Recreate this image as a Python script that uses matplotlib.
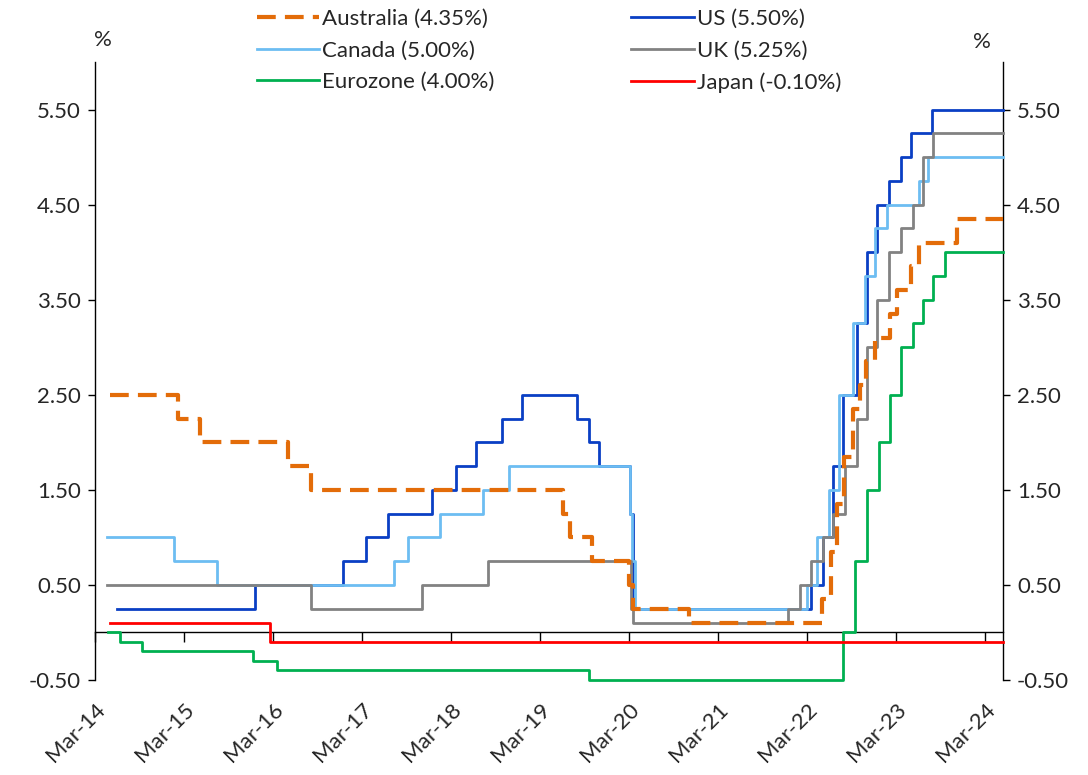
import matplotlib
matplotlib.use("Agg")
import matplotlib.pyplot as plt
import matplotlib.dates as mdates
import numpy as np
from datetime import datetime

plt.rcParams['font.family'] = ['Lato', 'DejaVu Sans']

# ---- data: policy rate change dates and levels ----
end_date = "2024-05-15"

us_dates = ["2014-06-01", "2015-12-17", "2016-12-15", "2017-03-16", "2017-06-15", "2017-12-14",
            "2018-03-22", "2018-06-14", "2018-09-27", "2018-12-20", "2019-08-01", "2019-09-19",
            "2019-10-31", "2020-03-04", "2020-03-16", "2022-03-17", "2022-05-05", "2022-06-16",
            "2022-07-28", "2022-09-22", "2022-11-03", "2022-12-15", "2023-02-02", "2023-03-23",
            "2023-05-04", "2023-07-27"]
us_rates = [0.25, 0.50, 0.75, 1.00, 1.25, 1.50, 1.75, 2.00, 2.25, 2.50, 2.25, 2.00, 1.75, 1.25,
            0.25, 0.50, 1.00, 1.75, 2.50, 3.25, 4.00, 4.50, 4.75, 5.00, 5.25, 5.50]

ca_dates = ["2014-04-20", "2015-01-21", "2015-07-15", "2017-07-12", "2017-09-06", "2018-01-17",
            "2018-07-11", "2018-10-24", "2020-03-04", "2020-03-13", "2020-03-27", "2022-03-02",
            "2022-04-13", "2022-06-01", "2022-07-13", "2022-09-07", "2022-10-26", "2022-12-07",
            "2023-01-25", "2023-06-07", "2023-07-12"]
ca_rates = [1.00, 0.75, 0.50, 0.75, 1.00, 1.25, 1.50, 1.75, 1.25, 0.75, 0.25, 0.50, 1.00, 1.50,
            2.50, 3.25, 3.75, 4.25, 4.50, 4.75, 5.00]

uk_dates = ["2014-04-20", "2016-08-04", "2017-11-02", "2018-08-02", "2020-03-11", "2020-03-19",
            "2021-12-16", "2022-02-03", "2022-03-17", "2022-05-05", "2022-06-16", "2022-08-04",
            "2022-09-22", "2022-11-03", "2022-12-15", "2023-02-02", "2023-03-23", "2023-05-11",
            "2023-06-22", "2023-08-03"]
uk_rates = [0.50, 0.25, 0.50, 0.75, 0.25, 0.10, 0.25, 0.50, 0.75, 1.00, 1.25, 1.75, 2.25, 3.00,
            3.50, 4.00, 4.25, 4.50, 5.00, 5.25]

au_dates = ["2014-05-01", "2015-02-03", "2015-05-05", "2016-05-03", "2016-08-02", "2019-06-04",
            "2019-07-02", "2019-10-01", "2020-03-03", "2020-03-19", "2020-11-03", "2022-05-03",
            "2022-06-07", "2022-07-05", "2022-08-02", "2022-09-06", "2022-10-04", "2022-11-01",
            "2022-12-06", "2023-02-07", "2023-03-07", "2023-05-02", "2023-06-06", "2023-11-07"]
au_rates = [2.50, 2.25, 2.00, 1.75, 1.50, 1.25, 1.00, 0.75, 0.50, 0.25, 0.10, 0.35, 0.85, 1.35,
            1.85, 2.35, 2.60, 2.85, 3.10, 3.35, 3.60, 3.85, 4.10, 4.35]

ez_dates = ["2014-04-25", "2014-06-11", "2014-09-10", "2015-12-09", "2016-03-16", "2019-09-18",
            "2022-07-27", "2022-09-14", "2022-11-02", "2022-12-21", "2023-02-08", "2023-03-22",
            "2023-05-10", "2023-06-21", "2023-08-02", "2023-09-20"]
ez_rates = [0.00, -0.10, -0.20, -0.30, -0.40, -0.50, 0.00, 0.75, 1.50, 2.00, 2.50, 3.00, 3.25,
            3.50, 3.75, 4.00]

jp_dates = ["2014-05-01", "2016-02-16"]
jp_rates = [0.10, -0.10]

x_tick_dates = ["2014-03-01", "2015-03-01", "2016-03-01", "2017-03-01", "2018-03-01", "2019-03-01",
                "2020-03-01", "2021-03-01", "2022-03-01", "2023-03-01", "2024-03-01"]
x_tick_labels = ["Mar-14", "Mar-15", "Mar-16", "Mar-17", "Mar-18", "Mar-19", "Mar-20", "Mar-21",
                 "Mar-22", "Mar-23", "Mar-24"]
y_ticks = [-0.5, 0.5, 1.5, 2.5, 3.5, 4.5, 5.5]


def to_num(ds):
    return mdates.date2num([datetime.strptime(d, "%Y-%m-%d") for d in ds])


def series(dates, rates):
    x = to_num(list(dates) + [end_date])
    y = list(rates) + [rates[-1]]
    return x, y


fig = plt.figure(figsize=(10.88, 7.75), dpi=100)
ax = fig.add_axes([95 / 1088, 1 - 680 / 775, (1003 - 95) / 1088, (680 - 62) / 775])

c_au = "#E36C09"
c_us = "#0A3FC4"
c_ca = "#6DBDF2"
c_uk = "#828282"
c_ez = "#00B050"
c_jp = "#FF0000"

lw = 2.0
kw = dict(where="post", clip_on=False)
h_us, = ax.step(*series(us_dates, us_rates), color=c_us, lw=lw, label="US (5.50%)", zorder=3, **kw)
h_ca, = ax.step(*series(ca_dates, ca_rates), color=c_ca, lw=lw, label="Canada (5.00%)", zorder=3.1, **kw)
h_uk, = ax.step(*series(uk_dates, uk_rates), color=c_uk, lw=lw, label="UK (5.25%)", zorder=3.2, **kw)
h_ez, = ax.step(*series(ez_dates, ez_rates), color=c_ez, lw=lw, label="Eurozone (4.00%)", zorder=3.3, **kw)
h_jp, = ax.step(*series(jp_dates, jp_rates), color=c_jp, lw=lw, label="Japan (-0.10%)", zorder=3.4, **kw)
h_au, = ax.step(*series(au_dates, au_rates), color=c_au, lw=3.0, ls=(0, (4.5, 2.2)),
                label="Australia (4.35%)", zorder=3.5, **kw)

ax.set_xlim(to_num(["2014-03-01"])[0], to_num([end_date])[0])
ax.set_ylim(-0.5, 6.0)

# spines
ax.spines["top"].set_visible(False)
ax.spines["bottom"].set_position(("data", 0))
for s in ["bottom", "left", "right"]:
    ax.spines[s].set_linewidth(1.0)
    ax.spines[s].set_color("black")

tick_col = "#262626"
fs = 16
ax.set_yticks(y_ticks)
ax.set_yticklabels([f"{v:.2f}" for v in y_ticks])
ax.tick_params(axis="y", which="both", direction="out", length=5, width=1, labelsize=fs,
               left=True, right=True, labelleft=True, labelright=True, labelcolor=tick_col, pad=5)

xt = to_num(x_tick_dates)
ax.set_xticks(xt)
ax.tick_params(axis="x", direction="out", length=7, width=1, labelbottom=False)

sec = ax.secondary_xaxis(0.0)
sec.spines["bottom"].set_visible(False)
sec.set_xticks(xt)
sec.set_xticklabels(x_tick_labels, rotation=45, ha="right", va="top", rotation_mode="anchor",
                    fontsize=fs, color=tick_col)
sec.tick_params(axis="x", length=0, pad=14)

fig.text(103 / 1088, 1 - 40 / 775, "%", fontsize=fs, ha="center", va="center", color=tick_col)
fig.text(982 / 1088, 1 - 42 / 775, "%", fontsize=fs, ha="center", va="center", color=tick_col)

handles = [h_au, h_ca, h_ez, h_us, h_uk, h_jp]
fig.legend(handles=handles, labels=[h.get_label() for h in handles], ncol=2,
           loc="upper left", bbox_to_anchor=(248 / 1088, 1.0), frameon=False,
           fontsize=fs, handlelength=2.8, handletextpad=0.15, columnspacing=6.15,
           labelspacing=0.52, borderpad=0.4, borderaxespad=0.0, labelcolor=tick_col)

fig.savefig("out.png", dpi=100)
